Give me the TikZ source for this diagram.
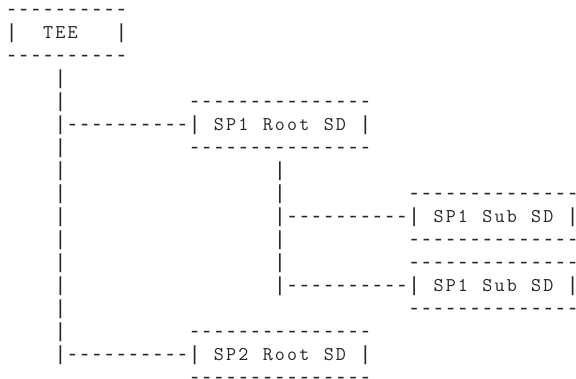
\documentclass[tikz,border=0pt]{standalone}
\usepackage{fontspec}
\newfontfamily\dashf{Liberation Mono}
\newlength\cwl
\setlength\cwl{12.2pt}
\let\fwend\relax
\def\fw#1{\fwloop#1\fwend}
\def\fwloop#1{\ifx\fwend#1\else\fwchar{#1}\expandafter\fwloop\fi}
\def\fwchar#1{\makebox[\cwl][c]{\ifx-#1\dashf\fontsize{20.3}{23}\selectfont\else\ifx|#1\dashf\fontsize{20.3}{23}\selectfont\fi\fi #1}}
\begin{document}
\begin{tikzpicture}[x=1pt,y=1pt,
  ascii/.style={anchor=base west, inner sep=0pt, outer sep=0pt,
    font=\ttfamily\fontsize{19.5}{23}\selectfont, text=black!85}]
\useasboundingbox (0,0) rectangle (576,-379);
\clip (0,0) rectangle (576,-379);
\def\cw{12.2}\def\lp{23}\def\xo{5.5}\def\yo{16}
\newcommand\asciiseg[4]{\node[ascii] (#1) at ({\xo+#3*\cw},{-(\yo+(#2-1)*\lp)}) {\fw{#4}};}
% TEE box
\asciiseg{teetop}{1}{0}{----------}
\asciiseg{tee}{2}{0}{|~~TEE~~~|}
\asciiseg{teebot}{3}{0}{----------}
% main trunk
\asciiseg{t4}{4}{4}{|}
\asciiseg{t5}{5}{4}{|}
\asciiseg{t7}{7}{4}{|}
\asciiseg{t8}{8}{4}{|}
\asciiseg{t9}{9}{4}{|}
\asciiseg{t10}{10}{4}{|}
\asciiseg{t11}{11}{4}{|}
\asciiseg{t12}{12}{4}{|}
\asciiseg{t13}{13}{4}{|}
\asciiseg{t14}{14}{4}{|}
\asciiseg{t15}{15}{4}{|}
% SP1 Root SD
\asciiseg{r1top}{5}{15}{---------------}
\asciiseg{r1link}{6}{4}{|----------}
\asciiseg{r1}{6}{15}{|~SP1~Root~SD~|}
\asciiseg{r1bot}{7}{15}{---------------}
% sub trunk
\asciiseg{s8}{8}{22}{|}
\asciiseg{s9}{9}{22}{|}
\asciiseg{s11}{11}{22}{|}
\asciiseg{s12}{12}{22}{|}
% SP1 Sub SD (1)
\asciiseg{u1top}{9}{33}{--------------}
\asciiseg{u1link}{10}{22}{|----------}
\asciiseg{u1}{10}{33}{|~SP1~Sub~SD~|}
\asciiseg{u1bot}{11}{33}{--------------}
% SP1 Sub SD (2)
\asciiseg{u2top}{12}{33}{--------------}
\asciiseg{u2link}{13}{22}{|----------}
\asciiseg{u2}{13}{33}{|~SP1~Sub~SD~|}
\asciiseg{u2bot}{14}{33}{--------------}
% SP2 Root SD
\asciiseg{r2top}{15}{15}{---------------}
\asciiseg{r2link}{16}{4}{|----------}
\asciiseg{r2}{16}{15}{|~SP2~Root~SD~|}
\asciiseg{r2bot}{17}{15}{---------------}
\end{tikzpicture}
\end{document}
